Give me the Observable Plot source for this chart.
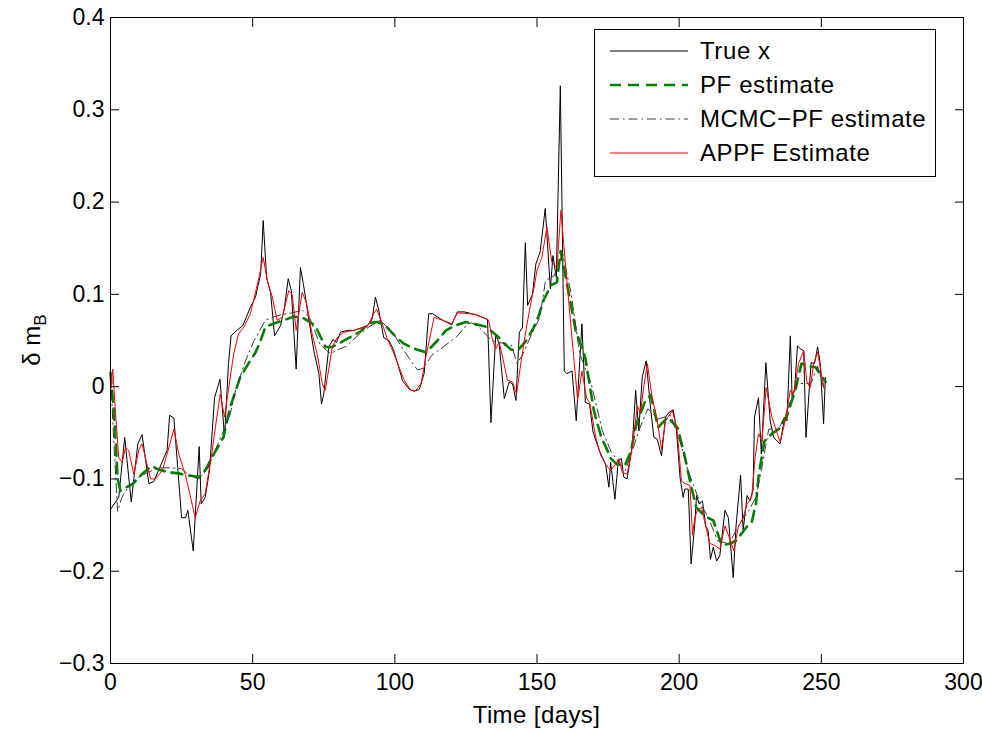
<!DOCTYPE html>
<html><head><meta charset="utf-8">
<script src="https://cdn.jsdelivr.net/npm/d3@7"></script>
<script src="https://cdn.jsdelivr.net/npm/@observablehq/plot@0.6"></script>
<style>body{margin:0;background:#fff} svg{display:block}</style>
</head><body><div id="chart"></div>
<script>
const xTicks = [0, 50, 100, 150, 200, 250, 300];
const yTicks = [-0.3, -0.2, -0.1, 0, 0.1, 0.2, 0.3, 0.4];
const seriesNames = ["True x", "PF estimate", "MCMC\u2212PF estimate", "APPF Estimate"];
const xLabel = "Time [days]";

const trueDays = [0,2.9,5,7.3,9.6,11.1,13.5,15.2,19.9,20.8,22.3,25,26.4,27.2,29.1,31.2,31.9,33.3,34.8,36.6,38.5,39.5,40.1,41.5,42.4,44.4,46.5,49.2,51,52.8,53.7,54.9,56.3,57.7,59.8,61.2,62.5,63.6,65.3,66.8,68,69.8,71.5,73.3,74.2,75,76.8,78.2,79.5,80.9,83.3,85.6,88.5,90.3,92,93.2,94.4,96.1,97.9,99.5,101,102.7,105,106.8,108.6,110.3,111.9,113.3,116.8,120,122,124.4,128.5,132.6,133.8,135.5,136.7,138.5,140.2,141.4,142.6,143.8,144.9,145.9,146.7,148.4,149.6,151.1,152.9,154.7,155.6,156.8,158.2,159.6,160.5,162.3,163.8,165.8,167,168.5,169.7,172,174.1,175.3,175.9,177.4,178.6,179.7,180.5,181.7,183.5,184.7,185.8,187,188.4,189.9,191.1,192.3,193.8,195.2,196.4,197.9,199,200.3,201.4,202,203.2,204.2,205.5,206.1,207,208.2,209.4,210.2,211,212,213.2,214.3,216.1,217.3,219,220,221.6,222.5,223.9,224.9,226,226.5,227.9,228.9,230.5,232,233.2,235.5,237.1,237.9,239.1,239.7,240.6,241.6,242.6,243.8,244.6,246.4,247.6,248.7,249.6,250.8,251.4];
const trueVals = [-0.133,-0.12,-0.055,-0.125,-0.062,-0.052,-0.105,-0.103,-0.069,-0.031,-0.034,-0.142,-0.142,-0.134,-0.178,-0.065,-0.127,-0.12,-0.091,-0.012,0.008,-0.030,-0.055,0.025,0.055,0.061,0.066,0.086,0.097,0.122,0.180,0.118,0.102,0.055,0.066,0.086,0.117,0.104,0.019,0.129,0.108,0.072,0.039,0.014,-0.019,-0.008,0.043,0.051,0.048,0.059,0.061,0.061,0.064,0.066,0.073,0.097,0.082,0.053,0.050,0.040,0.025,0.0065,-0.0025,-0.005,-0.003,0.014,0.079,0.079,0.072,0.067,0.081,0.081,0.078,0.073,-0.039,0.057,0.046,-0.013,0.005,0.003,-0.015,0.059,0.064,0.156,0.088,0.100,0.133,0.146,0.193,0.106,0.142,0.118,0.326,0.017,0.014,0.017,-0.037,0.068,-0.017,-0.019,-0.049,-0.07,-0.084,-0.109,-0.082,-0.122,-0.080,-0.078,-0.098,-0.100,-0.064,-0.004,-0.048,0.010,0.028,-0.022,-0.055,-0.057,-0.075,-0.033,-0.028,-0.025,-0.045,-0.098,-0.12,-0.111,-0.111,-0.192,-0.149,-0.118,-0.127,-0.124,-0.152,-0.156,-0.187,-0.174,-0.189,-0.183,-0.134,-0.142,-0.207,-0.151,-0.096,-0.156,-0.118,-0.124,-0.112,-0.033,-0.012,-0.073,0.026,-0.037,-0.055,-0.062,-0.033,-0.037,0.055,-0.010,-0.004,0.044,0.041,0.039,-0.055,0.026,0.025,0.043,0.025,-0.040,0.010];

const pfDays = [0,1,1.8,2.5,3.5,5,8,11,14.5,17,21,24,27,31,33.5,35.6,39.7,42.1,45.6,48.5,51,52.8,54.5,58,61,64.5,68,72,75.6,78,81,84,88,91,94,96.7,100,103,106,111,115,118,121,125,128,132,136,139,141,143.5,146,148.5,150.5,152.5,155,157,158.3,161,163.6,167,170,172.8,174,176,178,181,183,185,188,190,192.6,196,199.5,202,204,206,209,212,215,218,220,224,225.5,227,228,230,233,235,238,241,243,246,248,250,251.5];
const pfVals = [0.015,-0.02,-0.058,-0.1,-0.113,-0.11,-0.105,-0.095,-0.086,-0.09,-0.093,-0.094,-0.096,-0.098,-0.09,-0.077,-0.055,-0.022,0.010,0.025,0.037,0.050,0.065,0.069,0.072,0.076,0.074,0.066,0.043,0.043,0.048,0.053,0.060,0.069,0.070,0.066,0.055,0.047,0.042,0.037,0.050,0.061,0.066,0.070,0.068,0.065,0.055,0.045,0.040,0.040,0.049,0.062,0.076,0.095,0.110,0.113,0.147,0.104,0.061,0.031,-0.026,-0.057,-0.064,-0.078,-0.084,-0.085,-0.07,-0.040,-0.016,-0.009,-0.044,-0.033,-0.045,-0.076,-0.105,-0.131,-0.14,-0.145,-0.172,-0.17,-0.167,-0.151,-0.147,-0.127,-0.095,-0.059,-0.05,-0.046,-0.031,-0.002,0.025,0.022,0.021,0.012,0.005];

const mcmcDays = [0,1,2.5,4,6,9,13,17,21,25,28,31,34,37,42,44,47.5,50.5,54.5,57,60,64,67.5,70,73.5,76,77.5,80,83,87.6,91,95,100,103,106.5,108,110,113,117,121.7,125.6,127,129,131,134,138,141,143,145,148,151,153,156,159,162,165,169,173,176,181,183.5,186,189,192.7,197,200.6,203,207.5,210,213.5,217.5,222,224.5,227,229,231.5,235,237.5,240,241.5,246.5,248.7,250.8];
const mcmcVals = [0.015,-0.05,-0.135,-0.12,-0.11,-0.1,-0.093,-0.088,-0.088,-0.089,-0.097,-0.1,-0.09,-0.068,-0.031,-0.004,0.028,0.05,0.072,0.075,0.078,0.08,0.083,0.075,0.047,0.039,0.036,0.040,0.044,0.057,0.065,0.072,0.055,0.04,0.024,0.018,0.02,0.034,0.043,0.054,0.068,0.069,0.066,0.06,0.05,0.047,0.045,0.025,0.035,0.056,0.075,0.115,0.12,0.144,0.101,0.036,0.004,-0.048,-0.07,-0.091,-0.07,-0.046,-0.024,-0.035,-0.031,-0.062,-0.09,-0.127,-0.14,-0.167,-0.170,-0.145,-0.134,-0.12,-0.089,-0.046,-0.046,-0.03,-0.008,0.003,0.004,0.022,-0.001];

const appfDays = [0,0.8,1.8,2.9,4.1,5.3,6.4,8.2,10,11.1,14.1,15.8,18.2,19.9,22.3,24,26.3,29.8,31.5,33.3,35.6,37.4,38.6,40.1,41.5,43.3,45,47,49.2,52.2,53.7,55.3,56.9,58.6,60.4,62.7,63.9,65.3,67.4,68.9,70.9,72.7,74.5,75.5,76.6,78,79.7,82.1,85.6,90.3,92.6,93.6,95.6,97.3,99.1,101.5,103.3,105.6,107.4,109.2,110.9,113.8,116.8,120,122,126.6,128.5,133,134.4,135.5,136.7,137.9,139.6,141.4,142.8,144.3,145.9,147.3,149,150,151.7,153.5,155.2,157,158.4,160.5,162.3,164.3,165.8,167.5,168.5,170.8,172.5,174.1,175.9,177.6,178.8,180,181.7,183.5,185.3,186.4,187.6,188.8,190.5,192.3,193.8,195.2,197.6,199.2,200.8,202,203.8,204.7,205.5,206.4,207.9,209,210.8,212.5,214.3,216.1,217.8,219.2,220.8,222.5,223.9,225.5,226.7,227.9,229.1,230.6,232.6,235.5,237.3,239.1,240.2,242,243.8,244.9,246.1,247.3,248.7,250,251.1];
const appfVals = [-0.005,0.019,-0.030,-0.077,-0.082,-0.066,-0.069,-0.095,-0.068,-0.062,-0.100,-0.100,-0.091,-0.073,-0.046,-0.073,-0.095,-0.142,-0.124,-0.116,-0.073,-0.033,-0.008,-0.033,-0.003,0.035,0.057,0.065,0.079,0.118,0.140,0.113,0.097,0.072,0.075,0.104,0.100,0.061,0.102,0.091,0.057,0.035,0.003,-0.004,0.016,0.043,0.053,0.059,0.061,0.065,0.079,0.084,0.068,0.052,0.040,0.021,0.007,-0.004,-0.004,0.003,0.032,0.075,0.072,0.068,0.080,0.079,0.078,0.072,0.050,0.041,0.048,0.032,0.007,0.005,-0.008,0.025,0.057,0.082,0.108,0.126,0.140,0.173,0.135,0.129,0.191,0.115,0.053,-0.015,0.017,-0.013,-0.017,-0.057,-0.075,-0.084,-0.091,-0.084,-0.078,-0.093,-0.095,-0.066,-0.021,-0.028,0.001,0.025,-0.012,-0.037,-0.068,-0.037,-0.026,-0.045,-0.102,-0.105,-0.107,-0.161,-0.142,-0.134,-0.131,-0.147,-0.170,-0.172,-0.176,-0.151,-0.165,-0.178,-0.152,-0.142,-0.127,-0.120,-0.077,-0.051,-0.059,-0.001,-0.033,-0.060,-0.037,-0.004,-0.008,0.025,0.039,0.005,-0.001,0.025,0.037,0.014,-0.003];

const seriesStyles = [
  {stroke: "#000000", strokeWidth: 1, dash: null},
  {stroke: "#007f00", strokeWidth: 2.6, dash: "11,7"},
  {stroke: "#3a3a3a", strokeWidth: 1, dash: "9,4,1.5,4"},
  {stroke: "#ff0000", strokeWidth: 1, dash: null}
];
const seriesData = [
  d3.zip(trueDays, trueVals),
  d3.zip(pfDays, pfVals),
  d3.zip(mcmcDays, mcmcVals),
  d3.zip(appfDays, appfVals)
];

const W = 982, H = 733, mL = 110, mR = 19, mT = 17, mB = 70;
const font = "'Liberation Sans', Arial, Helvetica, sans-serif";
const fmtY = d => d === 0 ? "0" : d3.format(".1f")(d);

const chart = Plot.plot({
  width: W, height: H,
  marginLeft: mL, marginRight: mR, marginTop: mT, marginBottom: mB,
  style: {fontFamily: font, fontSize: "23px", background: "#fff", color: "#000", overflow: "visible"},
  x: {domain: [0, 300], label: null},
  y: {domain: [-0.3, 0.4], label: null},
  marks: [
    ...seriesData.map((d, i) => Plot.line(d, {
      stroke: seriesStyles[i].stroke,
      strokeWidth: seriesStyles[i].strokeWidth,
      strokeDasharray: seriesStyles[i].dash
    })),
    Plot.axisX({ticks: xTicks, tickSize: -9, tickPadding: 19, tickFormat: d => String(d), label: null}),
    Plot.axisX({anchor: "top", ticks: xTicks, tickSize: -9, tickFormat: () => "", label: null}),
    Plot.axisY({ticks: yTicks, tickSize: -9, tickPadding: 15, tickFormat: fmtY, label: null}),
    Plot.axisY({anchor: "right", ticks: yTicks, tickSize: -9, tickFormat: () => "", label: null}),
    Plot.frame({stroke: "#000", strokeWidth: 1})
  ]
});
document.getElementById("chart").appendChild(chart);

const svg = d3.select(chart);
svg.append("text")
  .attr("x", (mL + W - mR) / 2).attr("y", 723)
  .attr("text-anchor", "middle")
  .style("font-family", font).style("font-size", "24px").style("letter-spacing", "0.4px")
  .text(xLabel);
const yl = svg.append("text")
  .attr("transform", `translate(40,${(mT + H - mB) / 2}) rotate(-90)`)
  .attr("text-anchor", "middle")
  .style("font-family", font).style("font-size", "24px");
yl.append("tspan").text("\u03b4 m");
yl.append("tspan").attr("dy", 6).style("font-size", "17px").text("B");

const lg = svg.append("g").attr("text-anchor", "start");
lg.append("rect").attr("x", 594.5).attr("y", 29.5).attr("width", 341).attr("height", 147)
  .attr("fill", "#fff").attr("stroke", "#000").attr("stroke-width", 1);
const rowY = [51, 85, 119, 153];
seriesNames.forEach((name, i) => {
  const s = seriesStyles[i];
  lg.append("line").attr("x1", 610).attr("x2", 688).attr("y1", rowY[i]).attr("y2", rowY[i])
    .attr("stroke", s.stroke).attr("stroke-width", s.strokeWidth)
    .attr("stroke-dasharray", s.dash);
  lg.append("text").attr("x", 700).attr("y", rowY[i]).attr("dy", "0.35em")
    .attr("text-anchor", "start")
    .style("font-family", font).style("font-size", "24px").style("letter-spacing", "0.6px")
    .text(name);
});
</script>
</body></html>
